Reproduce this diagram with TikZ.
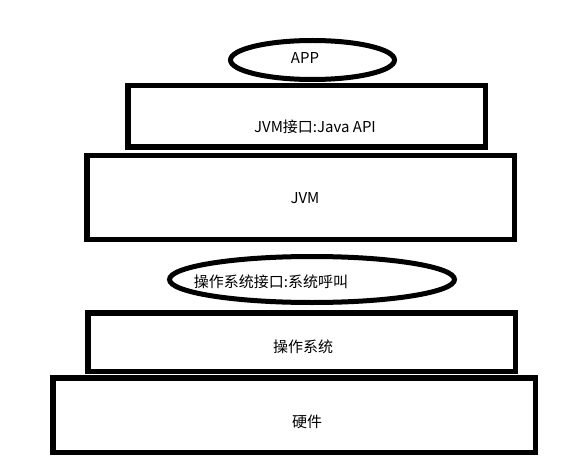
\documentclass[tikz,border=0pt]{standalone}
\usepackage{fontspec}
\usepackage{tikz}
\usetikzlibrary{shapes.geometric, calc}
\newfontfamily\cjk{Noto Sans CJK SC}
\tikzset{
    strato/.style = {draw, line width = 5.5pt, rectangle, inner sep = 0pt},
    interfaccia/.style = {draw, line width = 5pt, ellipse, inner sep = 0pt},
    etichetta/.style = {font = \cjk\fontsize{15}{17}\selectfont, inner sep = 0pt}
}

\begin{document}
\begin{tikzpicture}[x = 1pt, y = -1pt]
    % Cornice
    \useasboundingbox (0,0) rectangle (588,473);
    % Centri delle forme
    \coordinate (cApp) at (312.5,60);
    \coordinate (cJvmApi) at (306.5,116.5);
    \coordinate (cJvm) at (300.5,197.5);
    \coordinate (cOsApi) at (312,279.5);
    \coordinate (cOs) at (301.5,342);
    \coordinate (cHw) at (294,415);
    % Forme
    \node[interfaccia, minimum width = 164pt, minimum height = 39pt] (app) at (cApp){};
    \node[strato, minimum width = 357.5pt, minimum height = 61.5pt] (jvmapi) at (cJvmApi){};
    \node[strato, minimum width = 427.5pt, minimum height = 83.5pt] (jvm) at (cJvm){};
    \node[interfaccia, minimum width = 285pt, minimum height = 46pt] (osapi) at (cOsApi){};
    \node[strato, minimum width = 427.5pt, minimum height = 58.5pt] (os) at (cOs){};
    \node[strato, minimum width = 482.5pt, minimum height = 74.5pt] (hw) at (cHw){};
    % Testi
    \node[etichetta] (tApp) at (305,58){APP};
    \node[etichetta] (tJvmApi) at (315,127){JVM接口:Java API};
    \node[etichetta] (tJvm) at (305,198){JVM};
    \node[etichetta] (tOsApi) at (271,282){操作系统接口:系统呼叫};
    \node[etichetta] (tOs) at (303,347){操作系统};
    \node[etichetta] (tHw) at (307,422){硬件};
\end{tikzpicture}
\end{document}
